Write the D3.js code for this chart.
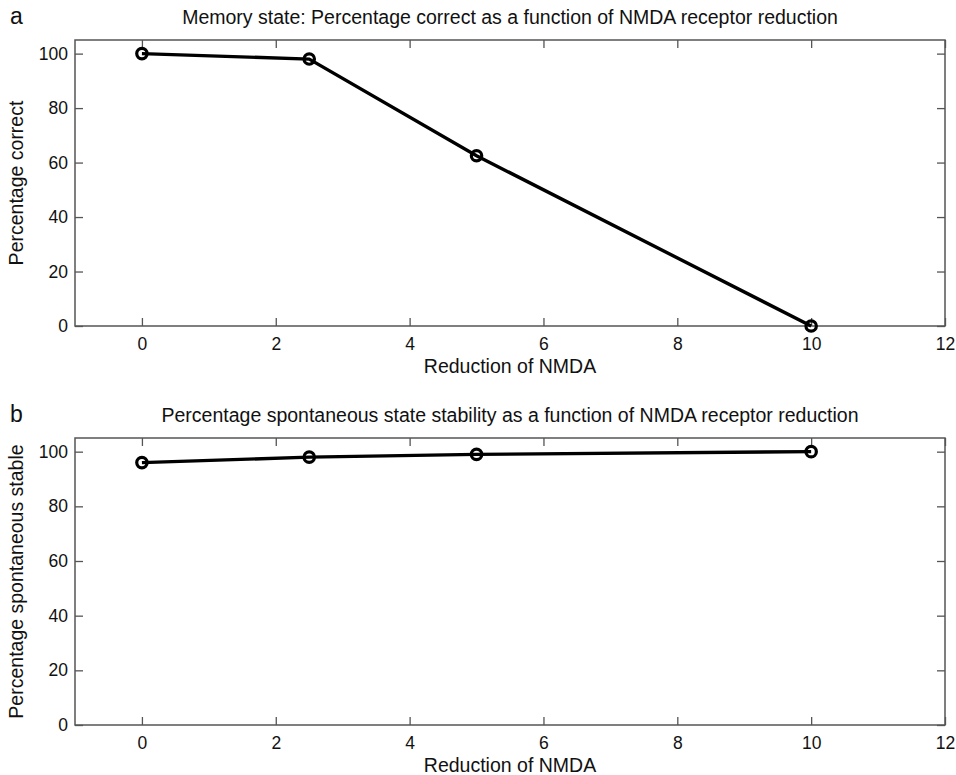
<!DOCTYPE html>
<html>
<head>
<meta charset="utf-8">
<script src="https://cdn.jsdelivr.net/npm/d3@7"></script>
<style>
  body { margin: 0; background: #fff; }
  svg text { font-family: "Liberation Sans", Arial, sans-serif; fill: #111; }
</style>
</head>
<body>
<div id="chart"></div>
<script>
// data
const nmdaReduction = [0, 2.5, 5, 10];
const pctCorrect = [100, 98, 62.5, 0];
const pctSpontStable = [96, 98, 99, 100];
const xTicks = [0, 2, 4, 6, 8, 10, 12];
const yTicks = [0, 20, 40, 60, 80, 100];

const panels = [
    { letter: 'a', title: 'Memory state: Percentage correct as a function of NMDA receptor reduction',
      ylabel: 'Percentage correct', values: pctCorrect, top: 40, bottom: 326 },
    { letter: 'b', title: 'Percentage spontaneous state stability as a function of NMDA receptor reduction',
      ylabel: 'Percentage spontaneous stable', values: pctSpontStable, top: 438, bottom: 725 }
];

const W = 956, H = 775;
const left = 75, right = 945;
const tickLen = 8;
const axisColor = '#555';

const svg = d3.select('#chart').append('svg')
    .attr('width', W)
    .attr('height', H);

const x = d3.scaleLinear().domain([-1, 12]).range([left, right]);

panels.forEach(p => {
    const y = d3.scaleLinear().domain([0, 105]).range([p.bottom, p.top]);
    const g = svg.append('g');

    // box
    g.append('rect')
        .attr('x', left).attr('y', p.top)
        .attr('width', right - left).attr('height', p.bottom - p.top)
        .attr('fill', 'none').attr('stroke', axisColor).attr('stroke-width', 1.5);

    // axes with inward ticks
    const bx = g.append('g').attr('transform', `translate(0,${p.bottom})`)
        .call(d3.axisBottom(x).tickValues(xTicks).tickSizeInner(-tickLen).tickSizeOuter(0).tickPadding(12));
    const tx = g.append('g').attr('transform', `translate(0,${p.top})`)
        .call(d3.axisTop(x).tickValues(xTicks).tickSizeInner(-tickLen).tickSizeOuter(0).tickFormat(''));
    const ly = g.append('g').attr('transform', `translate(${left},0)`)
        .call(d3.axisLeft(y).tickValues(yTicks).tickSizeInner(-tickLen).tickSizeOuter(0).tickPadding(7));
    const ry = g.append('g').attr('transform', `translate(${right},0)`)
        .call(d3.axisRight(y).tickValues(yTicks).tickSizeInner(-tickLen).tickSizeOuter(0).tickFormat(''));

    [bx, tx, ly, ry].forEach(a => {
        a.select('.domain').remove();
        a.selectAll('line').attr('stroke', axisColor).attr('stroke-width', 1.3);
        a.selectAll('text').attr('font-size', 17.5).attr('fill', '#111');
    });

    // series
    const pts = nmdaReduction.map((v, i) => [v, p.values[i]]);
    g.append('path')
        .datum(pts)
        .attr('d', d3.line().x(d => x(d[0])).y(d => y(d[1])))
        .attr('fill', 'none')
        .attr('stroke', '#000')
        .attr('stroke-width', 3.4);
    g.selectAll('circle').data(pts).join('circle')
        .attr('cx', d => x(d[0]))
        .attr('cy', d => y(d[1]))
        .attr('r', 5.2)
        .attr('fill', 'none')
        .attr('stroke', '#000')
        .attr('stroke-width', 3.2);

    // titles and labels
    g.append('text')
        .attr('x', (left + right) / 2).attr('y', p.top - 16)
        .attr('text-anchor', 'middle').attr('font-size', 19.5)
        .text(p.title);
    g.append('text')
        .attr('x', 10).attr('y', p.top - 16)
        .attr('font-size', 23)
        .text(p.letter);
    g.append('text')
        .attr('x', (left + right) / 2).attr('y', p.bottom + 47)
        .attr('text-anchor', 'middle').attr('font-size', 19.5)
        .text('Reduction of NMDA');
    g.append('text')
        .attr('transform', `translate(23,${(p.top + p.bottom) / 2}) rotate(-90)`)
        .attr('text-anchor', 'middle').attr('font-size', 19.5)
        .text(p.ylabel);
});
</script>
</body>
</html>
